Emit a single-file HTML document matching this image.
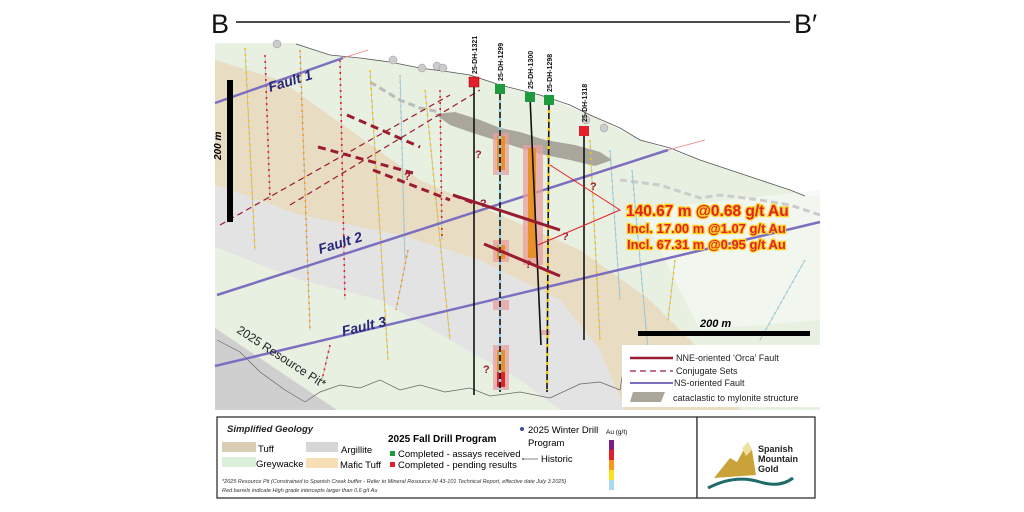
<!DOCTYPE html>
<html><head><meta charset="utf-8"><style>
html,body{margin:0;padding:0;background:#fff;}
svg{display:block;font-family:"Liberation Sans",sans-serif;}
.ann{font-weight:bold;fill:#e3202a;stroke:#ffd21f;stroke-width:2.4px;paint-order:stroke;font-family:"Liberation Sans",sans-serif;}
</style></head><body>
<svg width="1024" height="512" viewBox="0 0 1024 512" xmlns="http://www.w3.org/2000/svg">
<text x="211" y="33" font-size="27" fill="#111">B</text>
<line x1="236" y1="22" x2="790" y2="22" stroke="#111" stroke-width="1.6"/>
<text x="794" y="33" font-size="27" fill="#111">B′</text>

<rect x="215" y="43" width="605" height="367" fill="#eeeeee"/>
<polygon points="215,43 820,43 820,410 740,410 720,370 650,300 580,250 500,215 420,180 350,130 280,80 215,60" fill="#e7f0e1"/>
<polygon points="215,60 280,80 350,130 420,180 500,215 580,250 650,300 720,370 740,410 625,410 600,350 560,300 480,260 400,235 300,215 215,185" fill="#e8dcc3"/>
<polygon points="215,185 300,215 400,235 480,260 560,300 600,350 625,410 560,410 520,380 450,340 380,300 300,280 215,247" fill="#e3e3e3"/>
<polygon points="215,247 300,280 380,300 450,340 520,380 560,410 337,410 215,328" fill="#e8f0e2"/>
<polygon points="215,328 337,410 215,410" fill="#cfcfcf"/>
<polygon points="215,43 296,43 330,55 390,62 420,68 470,75 500,85 540,95 590,115 640,140 700,160 760,180 805,196 820,196 820,43" fill="#ffffff"/>
<polygon points="640,210 820,190 820,320 700,330" fill="#f4f7f2" opacity="0.8"/>
<polyline points="296,44 330,55 360,58 390,62 420,68 450,72 470,75 500,85 540,95 570,105 590,115 620,128 640,140 670,148 700,160 730,170 760,180 790,190 805,196" fill="none" stroke="#555" stroke-width="0.8"/>
<polyline points="217,340 240,352 260,372 285,390 305,402 320,392 340,385 360,388 380,380 400,390 420,385 445,392 470,388 490,396 520,392 550,398 580,384 600,382 620,390 625,360" fill="none" stroke="#666" stroke-width="0.7"/>
<polyline points="370,82 400,100 420,108 440,112" fill="none" stroke="#bbb" stroke-width="3" stroke-dasharray="7,4"/>
<polyline points="620,180 660,185 700,198 720,195 760,200 790,205 820,215" fill="none" stroke="#ccc" stroke-width="3" stroke-dasharray="7,4"/>
<path d="M435,114 L455,112 L480,120 L500,128 L520,132 L545,140 L575,145 L600,152 L612,160 L595,166 L570,160 L545,155 L520,148 L495,140 L470,132 L450,125 Z" fill="#a9a69c"/>

<g stroke="#aaa" stroke-width="0.6" fill="none">
<line x1="245" y1="48" x2="255" y2="250"/><line x1="265" y1="55" x2="270" y2="200"/><line x1="300" y1="50" x2="310" y2="330"/><line x1="340" y1="60" x2="345" y2="300"/><line x1="370" y1="70" x2="388" y2="360"/><line x1="400" y1="75" x2="405" y2="260"/><line x1="425" y1="90" x2="450" y2="340"/><line x1="440" y1="90" x2="442" y2="240"/><line x1="408" y1="250" x2="396" y2="310"/><line x1="590" y1="140" x2="600" y2="340"/><line x1="610" y1="150" x2="620" y2="300"/><line x1="632" y1="170" x2="648" y2="350"/><line x1="805" y1="260" x2="760" y2="340"/><line x1="675" y1="260" x2="668" y2="320"/><line x1="330" y1="345" x2="322" y2="380"/>
</g>
<g stroke-width="1.6" fill="none" stroke-dasharray="2,4">
<line x1="245" y1="48" x2="255" y2="250" stroke="#f2c40f"/>
<line x1="265" y1="55" x2="270" y2="200" stroke="#e3202a"/>
<line x1="300" y1="50" x2="310" y2="330" stroke="#f29b1b"/>
<line x1="340" y1="60" x2="345" y2="300" stroke="#e3202a"/>
<line x1="370" y1="70" x2="388" y2="360" stroke="#f2c40f"/>
<line x1="400" y1="75" x2="405" y2="260" stroke="#8fd3ec"/>
<line x1="425" y1="90" x2="450" y2="340" stroke="#f2c40f"/>
<line x1="440" y1="90" x2="442" y2="240" stroke="#e3202a"/>
<line x1="408" y1="250" x2="396" y2="310" stroke="#f29b1b"/>
<line x1="590" y1="140" x2="600" y2="340" stroke="#f2c40f"/>
<line x1="610" y1="150" x2="620" y2="300" stroke="#8fd3ec"/>
<line x1="632" y1="170" x2="648" y2="350" stroke="#8fd3ec"/>
<line x1="805" y1="260" x2="760" y2="340" stroke="#8fd3ec"/>
<line x1="675" y1="260" x2="668" y2="320" stroke="#f2c40f"/>
<line x1="330" y1="345" x2="322" y2="380" stroke="#e3202a"/>
</g>
<g fill="#ccc" stroke="#999" stroke-width="0.5">
<circle cx="393" cy="60" r="4"/><circle cx="422" cy="68" r="4"/><circle cx="437" cy="66" r="4"/><circle cx="443" cy="68" r="4"/><circle cx="586" cy="120" r="4"/><circle cx="604" cy="128" r="4"/><circle cx="277" cy="44" r="4"/>
</g>

<g stroke="#9b1b30" fill="none">
<line x1="220" y1="225" x2="450" y2="95" stroke-width="1.2" stroke-dasharray="6,4"/>
<line x1="290" y1="205" x2="480" y2="90" stroke-width="1.2" stroke-dasharray="6,4"/>
<line x1="347" y1="115" x2="420" y2="147" stroke-width="3" stroke-dasharray="8,5"/>
<line x1="318" y1="147" x2="413" y2="173" stroke-width="3" stroke-dasharray="8,5"/>
<line x1="373" y1="170" x2="450" y2="200" stroke-width="3" stroke-dasharray="8,5"/>
<line x1="453" y1="195" x2="476" y2="204" stroke-width="3" stroke-dasharray="8,5"/>
</g>

<g stroke="#7d6fbf" stroke-width="2.5" fill="none">
<line x1="215" y1="103" x2="343" y2="58"/>
<line x1="217" y1="295" x2="668" y2="150"/>
<line x1="215" y1="366" x2="820" y2="222"/>
</g>
<line x1="343" y1="58" x2="368" y2="50" stroke="#f08080" stroke-width="0.8"/>
<line x1="668" y1="150" x2="705" y2="140" stroke="#f08080" stroke-width="0.8"/>
<g font-weight="bold" font-style="italic" fill="#28287a" font-size="14">
<text transform="translate(270,92) rotate(-17)">Fault 1</text>
<text transform="translate(320,254) rotate(-17)">Fault 2</text>
<text transform="translate(343,336) rotate(-13)">Fault 3</text>
</g>
<text transform="translate(236,332) rotate(33)" font-size="12" fill="#222">2025 Resource Pit*</text>

<g fill="#e8a0a0" opacity="0.75">
<rect x="493" y="133" width="16" height="42"/><rect x="523" y="145" width="20" height="120"/><rect x="493" y="240" width="16" height="22"/><rect x="493" y="345" width="16" height="45"/><rect x="493" y="300" width="16" height="10"/><rect x="540" y="330" width="10" height="5"/>
</g>
<g fill="#e8902a"><rect x="497" y="136" width="8" height="34"/><rect x="528" y="148" width="8" height="110"/><rect x="497" y="245" width="8" height="14"/><rect x="497" y="350" width="8" height="35"/></g>
<rect x="497" y="372" width="8" height="15" fill="#e3202a"/>

<g stroke="#111" stroke-width="1.6">
<line x1="474" y1="82" x2="474" y2="395"/>
<line x1="500" y1="89" x2="500" y2="392"/>
<line x1="530" y1="97" x2="541" y2="345"/>
<line x1="549" y1="100" x2="547" y2="392"/>
<line x1="584" y1="131" x2="584" y2="340"/>
</g>
<g stroke-width="2.5" stroke-dasharray="3,6" fill="none">
<line x1="549" y1="110" x2="547" y2="390" stroke="#f2c40f"/>
<line x1="500" y1="100" x2="500" y2="390" stroke="#8fd3ec"/>
</g>
<rect x="469" y="77" width="10" height="10" fill="#e3202a" stroke="#900" stroke-width="0.5"/>
<rect x="495" y="84" width="10" height="10" fill="#1f9a3f"/>
<rect x="525" y="92" width="10" height="10" fill="#1f9a3f"/>
<rect x="544" y="95" width="10" height="10" fill="#1f9a3f"/>
<rect x="579" y="126" width="10" height="10" fill="#e3202a"/>
<g font-size="7" font-weight="bold" fill="#111">
<text transform="translate(477,74) rotate(-90)">25-DH-1321</text>
<text transform="translate(503,81) rotate(-90)">25-DH-1299</text>
<text transform="translate(533,89) rotate(-90)">25-DH-1300</text>
<text transform="translate(552,92) rotate(-90)">25-DH-1298</text>
<text transform="translate(587,122) rotate(-90)">25-DH-1318</text>
</g>

<g stroke="#9b1b30" stroke-width="3">
<line x1="453" y1="195" x2="560" y2="230"/>
<line x1="484" y1="244" x2="560" y2="276"/>
</g>
<g fill="#9b1b30" font-weight="bold" font-size="11">
<text x="475" y="158">?</text><text x="480" y="207">?</text><text x="562" y="240">?</text><text x="525" y="268">?</text><text x="590" y="190">?</text><text x="483" y="373">?</text><text x="404" y="180">?</text>
</g>
<polyline points="550,165 620,210 538,245" fill="none" stroke="#e3202a" stroke-width="1"/>
<text x="626" y="216" class="ann" font-size="15.5">140.67 m @0.68 g/t Au</text>
<text x="627" y="233" class="ann" font-size="13">Incl.  17.00 m @1.07 g/t Au</text>
<text x="627" y="249" class="ann" font-size="13">Incl.  67.31 m @0.95 g/t Au</text>

<rect x="227" y="80" width="6" height="142" fill="#000"/>
<text transform="translate(221,160) rotate(-90)" font-size="10" font-weight="bold" font-style="italic">200 m</text>
<rect x="638" y="331" width="172" height="5" fill="#000"/>
<text x="700" y="327" font-size="11" font-weight="bold" font-style="italic">200 m</text>

<rect x="622" y="345" width="198" height="62" fill="#fff"/>
<g font-size="9" fill="#222">
<line x1="630" y1="358" x2="673" y2="358" stroke="#9b1b30" stroke-width="2.5"/><text x="676" y="361">NNE-oriented ‘Orca’ Fault</text>
<line x1="630" y1="371" x2="673" y2="371" stroke="#b04060" stroke-width="1.5" stroke-dasharray="6,4"/><text x="676" y="374">Conjugate Sets</text>
<line x1="630" y1="383" x2="673" y2="383" stroke="#7d6fbf" stroke-width="2"/><text x="674" y="386">NS-oriented Fault</text>
<polygon points="633,392 665,392 661,402 630,402" fill="#a9a69c"/><text x="673" y="401">cataclastic to mylonite structure</text>
</g>

<rect x="217" y="417" width="480" height="81" fill="#fff" stroke="#333" stroke-width="1.3"/>
<rect x="697" y="417" width="118" height="81" fill="#fff" stroke="#333" stroke-width="1.3"/>
<text x="227" y="432" font-size="9.5" font-weight="bold" font-style="italic" fill="#222">Simplified Geology</text>
<rect x="222" y="442" width="34" height="10" fill="#d9ceb5"/><text x="258" y="452" font-size="9.5">Tuff</text>
<rect x="222" y="457" width="34" height="10" fill="#dcefdb"/><text x="256" y="467" font-size="9.5">Greywacke</text>
<rect x="306" y="442" width="32" height="10" fill="#d6d6d6"/><text x="341" y="453" font-size="9.5">Argillite</text>
<rect x="306" y="458" width="32" height="10" fill="#f7dfb5"/><text x="340" y="468" font-size="9.5">Mafic Tuff</text>
<text x="388" y="442" font-size="10" font-weight="bold">2025 Fall Drill Program</text>
<rect x="390" y="451" width="5" height="5" fill="#1f9a3f"/><text x="398" y="457" font-size="9.5">Completed - assays received</text>
<rect x="390" y="462" width="5" height="5" fill="#e3202a"/><text x="398" y="468" font-size="9.5">Completed - pending results</text>
<circle cx="522" cy="429" r="2" fill="#3a4aa8"/><text x="528" y="433" font-size="9.5">2025 Winter Drill</text><text x="528" y="446" font-size="9.5">Program</text>
<circle cx="523" cy="459" r="0.9" fill="#333"/><line x1="524" y1="459" x2="538" y2="459" stroke="#333" stroke-width="0.6"/><text x="541" y="462" font-size="9.5">Historic</text>
<text x="606" y="434" font-size="6.5">Au (g/t)</text>
<rect x="609" y="440" width="5" height="10" fill="#7a1f7f"/><rect x="609" y="450" width="5" height="10" fill="#e3202a"/><rect x="609" y="460" width="5" height="10" fill="#f29b1b"/><rect x="609" y="470" width="5" height="10" fill="#f5e31b"/><rect x="609" y="480" width="5" height="10" fill="#a9daf0"/>
<text x="222" y="483" font-size="5.5" font-style="italic" fill="#333">*2025 Resource Pit (Constrained to Spanish Creek buffer - Refer to Mineral Resource NI 43-101 Technical Report, effective date July 3 2025)</text>
<text x="222" y="492" font-size="5.5" font-style="italic" fill="#333">Red barrels indicate High grade intercepts larger than 0.6 g/t Au</text>
<polygon points="714,478 730,458 737,462 748,442 752,450 756,475" fill="#c9a33a"/>
<polygon points="742,448 748,442 752,450 746,456" fill="#f0e0a0"/>
<path d="M708,488 Q735,474 760,482 Q780,488 793,478" fill="none" stroke="#1f6b6b" stroke-width="3"/>
<text x="758" y="452" font-size="9" font-weight="bold" fill="#222">Spanish</text>
<text x="758" y="462" font-size="9" font-weight="bold" fill="#222">Mountain</text>
<text x="758" y="472" font-size="9" font-weight="bold" fill="#222">Gold</text>
</svg>
</body></html>
